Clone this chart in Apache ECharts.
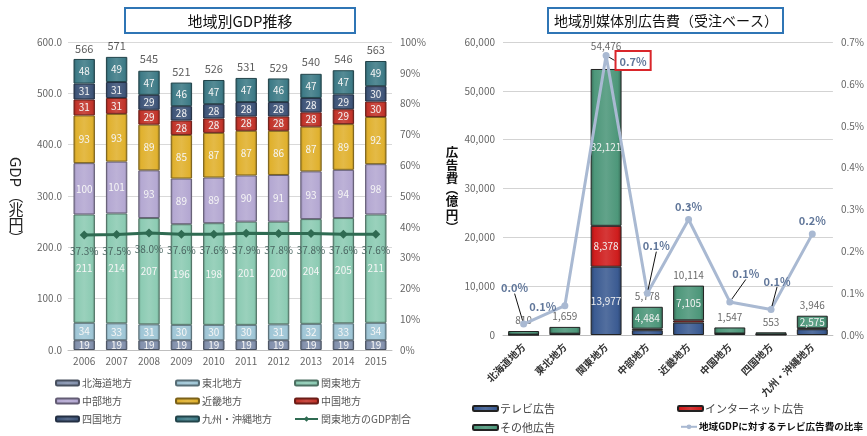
<!DOCTYPE html>
<html><head><meta charset="utf-8">
<script src="https://cdn.jsdelivr.net/npm/echarts@6/dist/echarts.min.js"></script>
<style>html,body{margin:0;padding:0;background:#fff}#c{width:867px;height:436px}</style>
</head><body><div id="c"></div>
<script>
// ---- Left chart data (GDP, 兆円) ----
const years = ['2006','2007','2008','2009','2010','2011','2012','2013','2014','2015'];
const hokkaido = [19,19,19,19,19,19,19,19,19,19];
const tohoku   = [34,33,31,30,30,30,31,32,33,34];
const kanto    = [211,214,207,196,198,201,200,204,205,211];
const chubu    = [100,101,93,89,89,90,91,93,94,98];
const kinki    = [93,93,89,85,87,87,86,87,89,92];
const chugoku  = [31,31,29,28,28,28,28,28,29,30];
const shikoku  = [31,31,29,28,28,28,28,28,29,30];
const kyushu   = [48,49,47,46,47,47,46,47,47,49];
const gdpTotals = [566,571,545,521,526,531,529,540,546,563];
const kantoShare = [37.3,37.5,38.0,37.6,37.6,37.9,37.8,37.8,37.6,37.6];

// ---- Right chart data (広告費, 億円) ----
const regions = ['北海道地方','東北地方','関東地方','中部地方','近畿地方','中国地方','四国地方','九州・沖縄地方'];
const tvAd    = [50,200,13977,980,2540,237,85,1180];
const netAd   = [30,60,8378,314,469,60,20,191];
const otherAd = [730,1399,32121,4484,7105,1250,448,2575];
const adTotals = [810,1659,54476,5778,10114,1547,553,3946];
const tvRatio = [0.026,0.07,0.668,0.1,0.276,0.079,0.061,0.241];

const FONT = '"Noto Sans CJK JP", "Noto Sans", sans-serif';

function shade(hex, f) {
  const n = parseInt(hex.slice(1), 16);
  let r = (n >> 16) & 255, g = (n >> 8) & 255, b = n & 255;
  const t = f < 0 ? 0 : 255, p = Math.abs(f);
  r = Math.round((t - r) * p + r); g = Math.round((t - g) * p + g); b = Math.round((t - b) * p + b);
  return 'rgb(' + r + ',' + g + ',' + b + ')';
}
function barFill(c) {
  return {type:'linear', x:0, y:0, x2:1, y2:0, colorStops:[
    {offset:0, color:shade(c,-0.3)}, {offset:0.12, color:c}, {offset:0.5, color:shade(c,0.12)},
    {offset:0.88, color:c}, {offset:1, color:shade(c,-0.3)}]};
}

const leftDefs = [
  ['北海道地方', hokkaido, '#8391ad'],
  ['東北地方', tohoku, '#9fc6d6'],
  ['関東地方', kanto, '#8ccbb3'],
  ['中部地方', chubu, '#b4a8d2'],
  ['近畿地方', kinki, '#e0b12e'],
  ['中国地方', chugoku, '#c2342a'],
  ['四国地方', shikoku, '#3f5579'],
  ['九州・沖縄地方', kyushu, '#3e7b87']
];

const series = [];
leftDefs.forEach(d => {
  series.push({
    name: d[0], type: 'bar', stack: 'gdp', xAxisIndex: 0, yAxisIndex: 0, barWidth: '66%',
    data: d[1],
    itemStyle: {color: barFill(d[2]), borderColor: shade(d[2], -0.45), borderWidth: 1},
    label: {show: true, position: 'inside', color: '#f6f6f6', fontSize: 10, fontFamily: FONT}
  });
});
series.push({
  name: 'gdpTotal', type: 'scatter', xAxisIndex: 0, yAxisIndex: 0, data: gdpTotals,
  symbol: 'rect', symbolSize: 1, itemStyle: {color: 'rgba(0,0,0,0)'},
  label: {show: true, position: 'top', distance: 5, color: '#333', fontSize: 11, fontFamily: FONT}, z: 5
});
series.push({
  name: '関東地方のGDP割合', type: 'line', xAxisIndex: 0, yAxisIndex: 1, data: kantoShare,
  symbol: 'diamond', symbolSize: 9, lineStyle: {color: '#2f6b52', width: 3},
  itemStyle: {color: '#2f6b52'}, z: 6,
  label: {show: true, position: 'bottom', distance: 7, color: '#4a6661', fontSize: 10, fontFamily: FONT,
    formatter: p => p.value.toFixed(1) + '%'}
});

// right chart
const rightDefs = [
  ['テレビ広告', tvAd, '#3b5b92', 5000],
  ['インターネット広告', netAd, '#cf1d1d', 5000],
  ['その他広告', otherAd, '#4d977a', 2000]
];
rightDefs.forEach(d => {
  series.push({
    name: d[0], type: 'bar', stack: 'ad', xAxisIndex: 1, yAxisIndex: 2, barWidth: '75%',
    data: d[1],
    itemStyle: {color: barFill(d[2]), borderColor: '#222', borderWidth: 1},
    label: {show: true, position: 'inside', color: '#f2f2f2', fontSize: 10, fontFamily: FONT,
      formatter: p => p.value > d[3] ? p.value.toLocaleString('en-US') : ''}
  });
});
series.push({
  name: 'adTotal', type: 'scatter', xAxisIndex: 1, yAxisIndex: 2,
  data: adTotals.map((v, i) => i === 2 ? {value: v, label: {offset: [0, -12]}} : v),
  symbol: 'rect', symbolSize: 1, itemStyle: {color: 'rgba(0,0,0,0)'},
  label: {show: true, position: 'top', distance: 5, color: '#444', fontSize: 10, fontFamily: FONT,
    formatter: p => p.value.toLocaleString('en-US')}, z: 5
});
const nudges = [[-9,-23],[-22,14],[27,22],[9,-34],[0,0],[16,-15],[6,-15],[0,0]];
const leaders = [true,false,true,true,false,true,true,false];
series.push({
  name: '地域GDPに対するテレビ広告費の比率', type: 'line', xAxisIndex: 1, yAxisIndex: 3,
  data: tvRatio.map((v, i) => {
    const o = {value: v, labelLine: {show: leaders[i]}};
    if (i === 2) o.label = {borderColor: '#d9262b', borderWidth: 2, padding: [5, 4, 3, 4]};
    return o;
  }),
  symbol: 'circle', symbolSize: 7, lineStyle: {color: '#a9b9d2', width: 3},
  itemStyle: {color: '#a9b9d2'}, z: 6,
  label: {show: true, position: 'top', distance: 4, color: '#61779a', fontSize: 11, fontWeight: 'bold',
    fontFamily: FONT, formatter: p => p.value.toFixed(1) + '%'},
  labelLine: {show: true, lineStyle: {color: '#111', width: 1}},
  labelLayout: p => ({dx: nudges[p.dataIndex][0], dy: nudges[p.dataIndex][1]})
});

// legends
const legends = [];
const leftLegendNames = ['北海道地方','東北地方','関東地方','中部地方','近畿地方','中国地方','四国地方','九州・沖縄地方','関東地方のGDP割合'];
const colX = [55, 175, 294];
leftLegendNames.forEach((n, i) => {
  const isLine = i === 8;
  const lg = {data: [n], left: colX[i % 3], top: 378 + Math.floor(i / 3) * 18, padding: 0,
    itemWidth: 23, itemHeight: isLine ? 7 : 5, selectedMode: false,
    textStyle: {fontSize: 10, color: '#555', fontFamily: FONT, padding: [0, 0, 0, -2]}};
  if (!isLine) lg.icon = 'roundRect';
  legends.push(lg);
});
const rl = [
  ['テレビ広告', 472, 403, false], ['インターネット広告', 677, 403, false],
  ['その他広告', 472, 422, false], ['地域GDPに対するテレビ広告費の比率', 680, 422, true]
];
rl.forEach(r => {
  const lg = {data: [r[0]], left: r[1], top: r[2], padding: 0, itemWidth: r[3] ? 16 : 25, itemHeight: r[3] ? 6 : 5,
    selectedMode: false,
    textStyle: {fontSize: r[3] ? 9.6 : 11, color: r[3] ? '#111' : '#444', fontWeight: r[3] ? 'bold' : 'normal',
      fontFamily: FONT, padding: [0, 0, 0, -3]}};
  if (!r[3]) lg.icon = 'roundRect';
  legends.push(lg);
});

// titles and vertical axis names
const graphics = [
  {type: 'rect', shape: {x: 125, y: 8, width: 230, height: 25},
    style: {fill: '#fff', stroke: '#2f75b5', lineWidth: 2}},
  {type: 'text', x: 240, y: 21, style: {text: '地域別GDP推移', font: '15px ' + FONT, fill: '#111',
    align: 'center', verticalAlign: 'middle'}},
  {type: 'rect', shape: {x: 548, y: 8, width: 235, height: 25},
    style: {fill: '#fff', stroke: '#2f75b5', lineWidth: 2}},
  {type: 'text', x: 666, y: 21, style: {text: '地域別媒体別広告費（受注ベース）', font: '14px ' + FONT, fill: '#111',
    align: 'center', verticalAlign: 'middle'}},
  {type: 'text', x: 16, y: 172, rotation: -Math.PI / 2,
    style: {text: 'GDP', font: '15px ' + FONT, fill: '#222', align: 'center', verticalAlign: 'middle'}}
];
const gdpTitleChars = [['︵', 195], ['兆', 209], ['円', 224], ['︶', 238]];
gdpTitleChars.forEach(c => graphics.push({type: 'text', x: 16, y: c[1],
  style: {text: c[0], font: '15px ' + FONT, fill: '#222', align: 'center', verticalAlign: 'middle'}}));
const adTitleChars = [['広', 152], ['告', 165], ['費', 178], ['︵', 189], ['億', 201], ['円', 215], ['︶', 227]];
adTitleChars.forEach(c => graphics.push({type: 'text', x: 452, y: c[1],
  style: {text: c[0], font: 'bold 12.5px ' + FONT, fill: '#111', align: 'center', verticalAlign: 'middle'}}));

const axisLbl = {color: '#666', fontSize: 10, fontFamily: FONT};
const option = {
  animation: false,
  textStyle: {fontFamily: FONT},
  grid: [
    {left: 68, right: 475, top: 42, bottom: 86},
    {left: 503, right: 32, top: 42, bottom: 101}
  ],
  xAxis: [
    {type: 'category', gridIndex: 0, data: years, axisTick: {show: false},
      axisLine: {lineStyle: {color: '#bfbfbf'}}, axisLabel: Object.assign({margin: 6}, axisLbl)},
    {type: 'category', gridIndex: 1, data: regions, axisTick: {show: false},
      axisLine: {lineStyle: {color: '#bfbfbf'}},
      axisLabel: {rotate: 45, interval: 0, margin: 10, fontSize: 10, fontWeight: 'bold', color: '#333', fontFamily: FONT}}
  ],
  yAxis: [
    {type: 'value', gridIndex: 0, min: 0, max: 600, interval: 100,
      axisLabel: Object.assign({margin: 6, formatter: v => v.toFixed(1)}, axisLbl),
      splitLine: {lineStyle: {color: '#d9d9d9'}}, axisLine: {show: false}, axisTick: {show: false}},
    {type: 'value', gridIndex: 0, min: 0, max: 100, interval: 10, position: 'right',
      axisLabel: Object.assign({margin: 8, formatter: v => v + '%'}, axisLbl),
      splitLine: {show: false}, axisLine: {show: false}, axisTick: {show: false}},
    {type: 'value', gridIndex: 1, min: 0, max: 60000, interval: 10000,
      axisLabel: Object.assign({margin: 8, formatter: v => v.toLocaleString('en-US')}, axisLbl),
      splitLine: {lineStyle: {color: '#d3d3d3'}}, axisLine: {show: false}, axisTick: {show: false}},
    {type: 'value', gridIndex: 1, min: 0, max: 0.7, interval: 0.1, position: 'right',
      axisLabel: Object.assign({margin: 8, formatter: v => v.toFixed(1) + '%'}, axisLbl),
      splitLine: {show: false}, axisLine: {show: false}, axisTick: {show: false}}
  ],
  legend: legends,
  graphic: graphics,
  series: series
};
const chart = echarts.init(document.getElementById('c'), null, {renderer: 'canvas'});
chart.setOption(option);
</script></body></html>
